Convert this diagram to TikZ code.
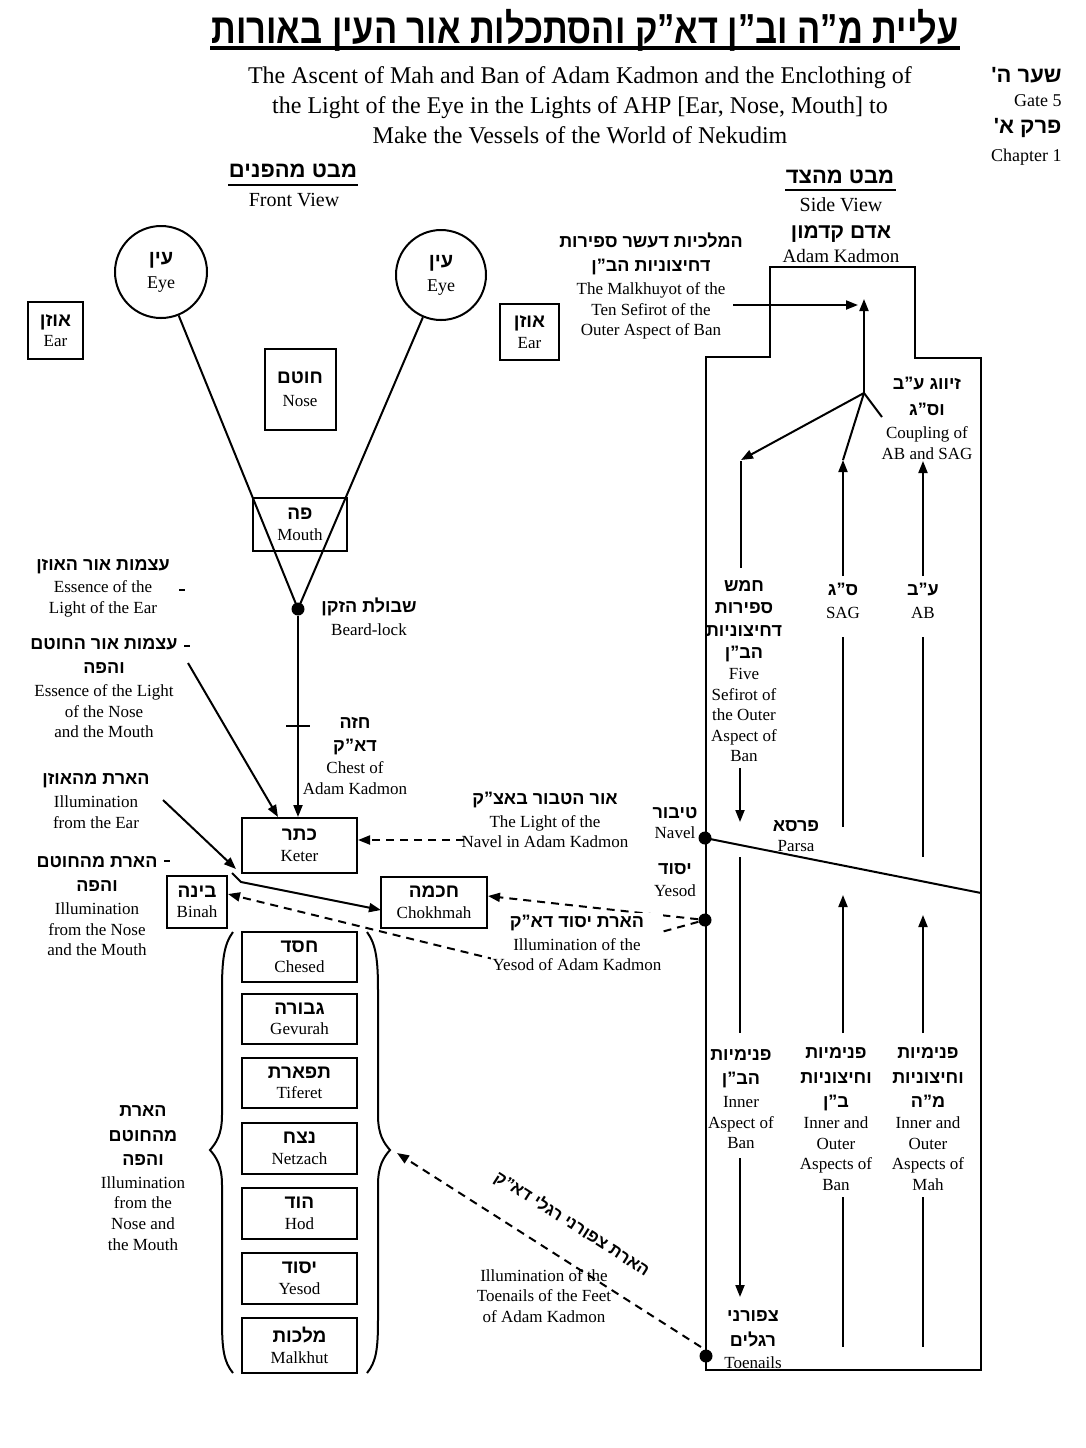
\documentclass[tikz,border=0pt]{standalone}
\usepackage{fontspec}
\usepackage{graphicx}
\setmainfont{Liberation Serif}
\newfontfamily\hebfam[Script=Hebrew]{Liberation Sans}
\TeXXeTstate=1
\usetikzlibrary{arrows.meta}
\newcommand\heb[1]{{\hebfam\bfseries\fontsize{9}{10}\selectfont\beginR #1\endR}}
\newcommand\hebS[2]{{\hebfam\bfseries\fontsize{#1}{#1}\selectfont\beginR #2\endR}}
\newcommand\enf{\fontsize{8.5}{10.3}\selectfont}
\begin{document}
\begin{tikzpicture}[x=0.5pt,y=-0.5pt,
  lbl/.style={align=center,font=\enf,inner sep=0pt},
  box/.style={draw,line width=1pt,align=center,font=\enf,inner sep=0pt},
  ln/.style={line width=1pt},
  arr/.style={line width=1pt,-{Triangle[length=6pt,width=4.5pt]}},
  dsh/.style={dash pattern=on 4pt off 3pt},
  dotn/.style={circle,fill,inner sep=0pt,minimum size=6.5pt},
  sef/.style={box,minimum width=57.5pt,minimum height=25pt}
]
\fill[white] (0,0) rectangle (1086,1448);
\useasboundingbox (0,0) rectangle (1086,1448);

% ---------- titles ----------
\node[inner sep=0pt] (ttl) at (585,30) {\scalebox{0.82}[1]{\hebS{21}{\beginR עליית מ”ה וב”ן דא”ק והסתכלות אור העין באורות\endR}}};
\draw[line width=2pt] (210,48) -- (960,48);
\node[align=center,inner sep=0pt,font=\fontsize{12}{15}\selectfont] (ttlen) at (580,105)
  {The Ascent of Mah and Ban of Adam Kadmon and the Enclothing of\\the Light of the Eye in the Lights of AHP [Ear, Nose, Mouth] to\\Make the Vessels of the World of Nekudim};

\node[anchor=east,inner sep=0pt] (gate) at (1062,75) {\hebS{11}{\beginR שער ה'\endR}};
\node[anchor=east,inner sep=0pt,font=\fontsize{9}{11}\selectfont] (gateen) at (1062,101) {Gate 5};
\node[anchor=east,inner sep=0pt] (chap) at (1062,128) {\hebS{11}{\beginR פרק א'\endR}};
\node[anchor=east,inner sep=0pt,font=\fontsize{9}{11}\selectfont] (chapen) at (1062,157) {Chapter 1};

\node[inner sep=0pt] (fvh) at (293,171) {\hebS{11}{\beginR מבט מהפנים\endR}};
\draw[line width=1.2pt] (228,185) -- (358,185);
\node[inner sep=0pt,font=\fontsize{10}{12}\selectfont] (fv) at (294,200) {Front View};

\node[inner sep=0pt] (svh) at (840,177) {\hebS{11}{\beginR מבט מהצד\endR}};
\draw[line width=1.2pt] (785,190) -- (896,190);
\node[inner sep=0pt,font=\fontsize{10}{12}\selectfont] (sv) at (841,205) {Side View};

% ---------- front view: face ----------
\node[circle,draw,line width=1pt,minimum size=46pt,inner sep=0pt,align=center,font=\fontsize{9}{11}\selectfont] (eyeL) at (161,272) {\hebS{10}{עין}\\[1pt]Eye};
\node[circle,draw,line width=1pt,minimum size=45pt,inner sep=0pt,align=center,font=\fontsize{9}{11}\selectfont] (eyeR) at (441,275) {\hebS{10}{עין}\\[1pt]Eye};
\node[box,minimum width=27.5pt,minimum height=28.5pt] (earL) at (55.5,330.5) {\hebS{9.5}{אוזן}\\Ear};
\node[box,minimum width=29.5pt,minimum height=28pt] (earR) at (529.5,332) {\hebS{9.5}{אוזן}\\Ear};
\node[box,minimum width=35.5pt,minimum height=40.5pt] (nose) at (300,389.5) {\hebS{9.5}{חוטם}\\[1pt]Nose};
\node[box,minimum width=47pt,minimum height=26.5pt] (mouth) at (300,524.5) {\hebS{9.5}{פה}\\Mouth};

\node[dotn] (beard) at (298,609) {};
\draw[ln] (eyeL) -- (beard.center);
\draw[ln] (eyeR) -- (beard.center);
\node[lbl] (beardlbl) at (369,617) {\heb{\beginR שבולת הזקן\endR}\\[1pt]Beard-lock};

\node[box,minimum width=57.5pt,minimum height=27.5pt] (keter) at (299.5,845.5) {\hebS{9.5}{כתר}\\Keter};
\draw[arr] (beard) -- (beard |- keter.north);
\draw[ln] (286,726) -- (310,726);
\node[lbl] (chest) at (355,756) {\heb{חזה}\\[1pt]\heb{דא”ק}\\[1pt]Chest of\\Adam Kadmon};

\node[box,minimum width=30pt,minimum height=26pt] (binah) at (197,902) {\hebS{9.5}{בינה}\\Binah};
\node[box,minimum width=53pt,minimum height=25.5pt] (chok) at (434,902.5) {\hebS{9.5}{חכמה}\\Chokhmah};

\node[sef] (chesed) at (299.5,957) {\hebS{9.5}{חסד}\\Chesed};
\node[sef] (gevurah) at (299.5,1019) {\hebS{9.5}{גבורה}\\Gevurah};
\node[sef] (tiferet) at (299.5,1083) {\hebS{9.5}{תפארת}\\Tiferet};
\node[sef,minimum height=25.5pt] (netzach) at (299.5,1148.5) {\hebS{9.5}{נצח}\\Netzach};
\node[sef,minimum height=25.5pt] (hod) at (299.5,1213.5) {\hebS{9.5}{הוד}\\Hod};
\node[sef,minimum height=25.5pt] (yesodS) at (299.5,1278.5) {\hebS{9.5}{יסוד}\\Yesod};
\node[sef,minimum height=27.5pt] (malkhut) at (299.5,1345.5) {\hebS{9.5}{מלכות}\\Malkhut};

% braces
\draw[ln] (233,932) .. controls (224,944) and (222,960) .. (222,990) -- (222,1115)
  .. controls (222,1135) and (216,1143) .. (210,1150)
  .. controls (216,1157) and (222,1165) .. (222,1185) -- (222,1320)
  .. controls (222,1350) and (224,1362) .. (233,1373);
\draw[ln] (367,932) .. controls (376,944) and (378,960) .. (378,990) -- (378,1115)
  .. controls (378,1135) and (384,1143) .. (390,1150)
  .. controls (384,1157) and (378,1165) .. (378,1185) -- (378,1320)
  .. controls (378,1350) and (376,1362) .. (367,1373);
\node[lbl] (bracelbl) at (143,1178) {\heb{הארת}\\[2pt]\heb{מהחוטם}\\[2pt]\heb{והפה}\\[1pt]Illumination\\from the\\Nose and\\the Mouth};

% left labels
\node[lbl] (l1) at (103,588) {\heb{\beginR עצמות אור האוזן\endR}\\[1pt]Essence of the\\Light of the Ear};
\draw[ln] (179,590) -- (185,590);
\node[lbl] (l2) at (104,688) {\heb{\beginR עצמות אור החוטם\endR}\\[2pt]\heb{והפה}\\[1pt]Essence of the Light\\of the Nose\\and the Mouth};
\draw[ln] (184,646) -- (190,646);
\node[lbl] (l3) at (96,801) {\heb{\beginR הארת מהאוזן\endR}\\[1pt]Illumination\\from the Ear};
\node[lbl] (l4) at (97,906) {\heb{\beginR הארת מהחוטם\endR}\\[2pt]\heb{והפה}\\[1pt]Illumination\\from the Nose\\and the Mouth};
\draw[ln] (164,861) -- (170,861);

\coordinate (e2s) at (188,663);
\coordinate (e2t) at (278,817);
\draw[arr] (e2s) -- (e2t);
\coordinate (e3s) at (163,800);
\coordinate (e3t) at (236,869);
\draw[arr] (e3s) -- (e3t);
\coordinate (chA) at (232,873);
\coordinate (chB) at (241,882);
\coordinate (chIn) at (381,910);
\draw[arr] (chA) -- (chB) -- (chIn);

% ---------- side view ----------
\draw[line width=1.2pt] (706,1370) -- (706,357) -- (770,357) -- (770,267) -- (915,267)
  -- (915,358) -- (981,358) -- (981,1370) -- cycle;
\node[lbl,font=\fontsize{9.5}{11}\selectfont] (ak) at (841,244) {\hebS{10.5}{\beginR אדם קדמון\endR}\\[1pt]Adam Kadmon};
\node[lbl] (mk) at (651,286) {\heb{\beginR המלכיות דעשר ספירות\endR}\\[2pt]\heb{\beginR דחיצוניות הב”ן\endR}\\[1pt]The Malkhuyot of the\\Ten Sefirot of the\\Outer Aspect of Ban};
\coordinate (mkS) at (733,305);
\coordinate (mkT) at (858,305);
\draw[arr] (mkS) -- (mkT);
\coordinate (J) at (864,393);
\coordinate (Jtop) at (864,299);
\draw[arr] (J) -- (Jtop);
\coordinate (c1top) at (741,460);
\draw[arr] (J) -- (c1top);
\draw[ln] (741,461) -- (741,568);
\coordinate (c2top) at (843,460);
\draw[arr] (843,576) -- (c2top);
\draw[ln] (c2top) -- (J);
\draw[ln] (J) -- (882,417);
\draw[arr] (923,576) -- (923,461);
\node[lbl] (coup) at (927,418) {\heb{\beginR זיווג ע”ב\endR}\\[3pt]\heb{וס”ג}\\[1pt]Coupling of\\AB and SAG};

\node[lbl] (c1u) at (744,671) {\heb{חמש}\\[1pt]\heb{ספירות}\\[1pt]\heb{דחיצוניות}\\[1pt]\heb{הב”ן}\\Five\\Sefirot of\\the Outer\\Aspect of\\Ban};
\node[lbl] (c2u) at (843,601) {\heb{ס”ג}\\[1pt]SAG};
\node[lbl] (c3u) at (923,601) {\heb{ע”ב}\\[1pt]AB};
\draw[arr] (740,768) -- (740,822);
\draw[ln] (843,637) -- (843,827);
\draw[ln] (923,637) -- (923,857);

\node[dotn] (navel) at (705,838) {};
\coordinate (parsaR) at (981,893);
\draw[ln] (navel.center) -- (parsaR);
\node[lbl] (parsa) at (796,836) {\heb{פרסא}\\Parsa};
\node[lbl] (navlbl) at (675,823) {\heb{טיבור}\\Navel};
\node[dotn] (ysd) at (705,920) {};
\node[lbl] (ysdlbl) at (675,880) {\heb{יסוד}\\[1pt]Yesod};

\draw[ln] (740,857) -- (740,1033);
\draw[arr] (843,1033) -- (843,895);
\draw[arr] (923,1033) -- (923,915);

\node[lbl] (c1l) at (741,1099) {\heb{פנימיות}\\[2pt]\heb{הב”ן}\\[1pt]Inner\\Aspect of\\Ban};
\node[lbl] (c2l) at (836,1119) {\heb{פנימיות}\\[2pt]\heb{וחיצוניות}\\[2pt]\heb{ב”ן}\\Inner and\\Outer\\Aspects of\\Ban};
\node[lbl] (c3l) at (928,1119) {\heb{פנימיות}\\[2pt]\heb{וחיצוניות}\\[2pt]\heb{מ”ה}\\Inner and\\Outer\\Aspects of\\Mah};
\draw[arr] (740,1158) -- (740,1297);
\draw[ln] (843,1197) -- (843,1347);
\draw[ln] (923,1197) -- (923,1347);

\node[dotn] (toe) at (706,1356) {};
\node[lbl] (toelbl) at (753,1340) {\heb{צפורני}\\[2pt]\heb{רגלים}\\[1pt]Toenails};

% ---------- dashed illuminations ----------
\node[lbl] (navlight) at (545,820) {\heb{\beginR אור הטבור באצ”ק\endR}\\[1pt]The Light of the\\Navel in Adam Kadmon};
\coordinate (nvs) at (464,840);
\coordinate (nvt) at (358,840);
\draw[arr,dsh] (nvs) -- (nvt);

\coordinate (chkR) at (488,896);
\draw[arr,dsh] (ysd) -- (chkR);
\coordinate (vlow) at (530,968);
\coordinate (binR) at (228,894);
\draw[arr,dsh] (ysd) -- (vlow) -- (binR);
\node[lbl,fill=white,inner sep=1pt] (ysdlight) at (577,943) {\heb{\beginR הארת יסוד דא”ק\endR}\\[1pt]Illumination of the\\Yesod of Adam Kadmon};

\coordinate (braceTip) at (397,1153);
\coordinate (toeEnd) at (701,1347);
\draw[arr,dsh] (toeEnd) -- (braceTip);
\node[inner sep=0pt,rotate=-32.5] (toelight) at (572,1224) {\hebS{8.5}{\beginR הארת צפורני רגלי דא”ק\endR}};
\node[lbl] (toelighten) at (544,1296) {Illumination of the\\Toenails of the Feet\\of Adam Kadmon};
\end{tikzpicture}
\end{document}
